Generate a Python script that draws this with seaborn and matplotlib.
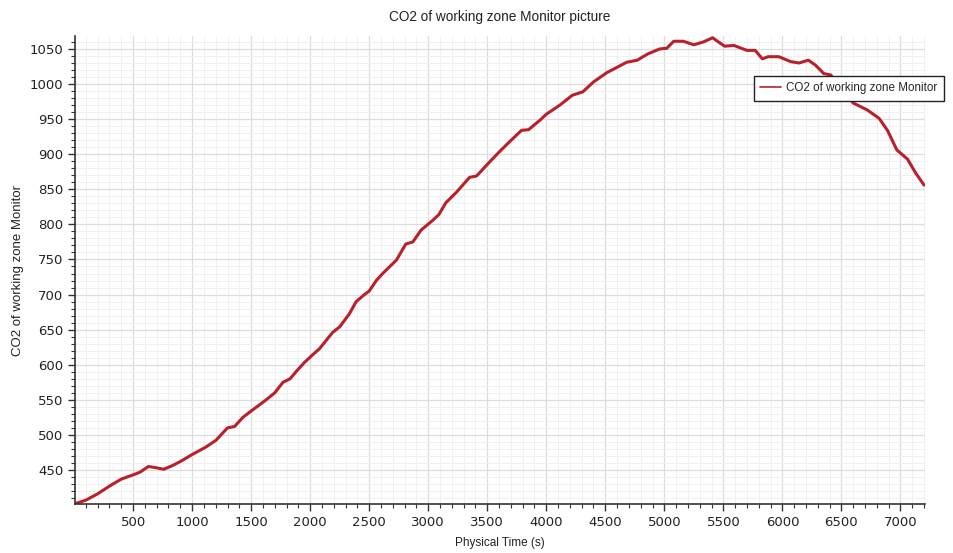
import matplotlib
matplotlib.use("Agg")
import matplotlib.pyplot as plt
from matplotlib.ticker import MultipleLocator
import seaborn as sns
import pandas as pd

time_s = [10, 100, 200, 300, 400, 500, 560, 630, 700, 760, 830, 900, 1000, 1110, 1200,
          1300, 1360, 1430, 1500, 1620, 1700, 1770, 1830, 1880, 1950, 2020, 2080, 2190,
          2250, 2330, 2390, 2460, 2500, 2560, 2620, 2730, 2810, 2870, 2940, 3040, 3090,
          3150, 3240, 3350, 3410, 3520, 3600, 3690, 3790, 3850, 3950, 4000, 4115, 4220,
          4310, 4400, 4510, 4590, 4680, 4770, 4860, 4960, 5020, 5080, 5160, 5250, 5330,
          5410, 5450, 5510, 5590, 5700, 5770, 5830, 5880, 5970, 6070, 6140, 6220, 6280,
          6350, 6410, 6490, 6600, 6720, 6820, 6890, 6970, 7060, 7130, 7200]
co2 = [402, 407, 416, 427, 437, 443, 447, 455, 453, 451, 456, 462, 472, 482, 492,
       510, 512, 525, 534, 549, 560, 575, 580, 590, 603, 614, 623, 646,
       654, 672, 690, 700, 705, 720, 731, 749, 772, 775, 792, 806, 814,
       831, 846, 867, 869, 889, 903, 918, 934, 935, 949, 957, 970, 984,
       989, 1003, 1016, 1023, 1031, 1034, 1043, 1050, 1051, 1061, 1061, 1056, 1060,
       1066, 1061, 1054, 1055, 1048, 1048, 1036, 1039, 1039, 1032, 1030, 1034, 1027,
       1015, 1013, 994, 973, 963, 951, 934, 906, 893, 873, 856]

x_ticks = list(range(500, 7001, 500))
y_ticks = list(range(450, 1051, 50))

series_name = "CO2 of working zone Monitor"
title_text = "CO2 of working zone Monitor picture"
x_label = "Physical Time (s)"
y_label = "CO2 of working zone Monitor"

df = pd.DataFrame({"t": time_s, "v": co2})

sns.set_theme(style="white")
plt.rcParams["font.family"] = ["DejaVu Sans"]

fig = plt.figure(figsize=(9.54, 5.53), dpi=100)
ax = fig.add_axes([75/954, 1-504/553, (925-75)/954, (504-36)/553])

line_color = "#b8202a"
sns.lineplot(data=df, x="t", y="v", ax=ax, color=line_color, linewidth=2.2, label=series_name)

ax.set_xlim(8, 7208)
ax.set_ylim(401.5, 1068.5)
ax.set_xticks(x_ticks)
ax.set_yticks(y_ticks)
ax.xaxis.set_minor_locator(MultipleLocator(100))
ax.yaxis.set_minor_locator(MultipleLocator(10))

ax.grid(which="major", color="#dddddd", linewidth=0.9)
ax.grid(which="minor", color="#f0f0f0", linewidth=0.7)
ax.set_axisbelow(True)

for s in ["top", "right"]:
    ax.spines[s].set_visible(False)
for s in ["left", "bottom"]:
    ax.spines[s].set_color("#333333")
    ax.spines[s].set_linewidth(1.2)

ax.tick_params(which="major", direction="out", length=5, width=1, color="#333333",
               labelsize=9.5, labelcolor="#222222", bottom=True, left=True)
ax.tick_params(which="minor", direction="out", length=3, width=0.8, color="#333333",
               bottom=True, left=True)

ax.set_title(title_text, fontsize=9.8, family="Liberation Sans", color="#222222", pad=11)
ax.set_xlabel(x_label, fontsize=8.5, family="Liberation Sans", color="#222222", labelpad=6)
ax.set_ylabel(y_label, fontsize=9.5, family="Liberation Sans", color="#222222", labelpad=4)

leg = ax.legend(loc="upper left", bbox_to_anchor=(754/954, 1-76/553),
                bbox_transform=fig.transFigure, frameon=True, fancybox=False,
                framealpha=1, edgecolor="#222222", borderpad=0.55, borderaxespad=0,
                handlelength=1.8, handletextpad=0.4,
                prop={"family": "Liberation Sans", "size": 8.4})
leg.get_frame().set_linewidth(1.0)
for line in leg.get_lines():
    line.set_linewidth(1.2)
    line.set_color(line_color)

fig.savefig("out.png", dpi=100)
